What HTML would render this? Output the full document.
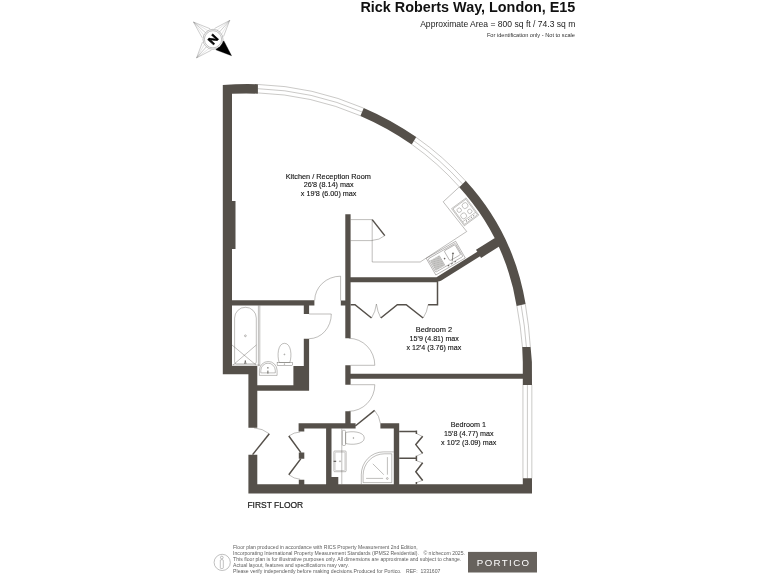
<!DOCTYPE html>
<html lang="en"><head><meta charset="utf-8"><title>Rick Roberts Way, London, E15 - Floor plan</title>
<style>
html,body{margin:0;padding:0;background:#fff;}
body{width:768px;height:576px;overflow:hidden;font-family:"Liberation Sans",sans-serif;}
svg{display:block;will-change:transform;}
text{font-family:"Liberation Sans",sans-serif;}
</style></head><body>
<svg width="768" height="576" viewBox="0 0 768 576">
<rect width="768" height="576" fill="#fff"/>
<path fill="#55504a" d="M222.8,85.1 A291.7,291.7 0 0 1 257.9,84.2 L257.9,93.7 A283.8,283.8 0 0 0 232,93.8 V120 H222.8Z M363.75,107.9 A291.7,291.7 0 0 1 416.25,137.1 L411.7,144.6 A282.8,282.8 0 0 0 360.4,116 Z M465.8,180.8 A240.6,240.6 0 0 1 525.6,304.1 L516.6,305.9 A231.8,231.8 0 0 0 459.3,187.25 Z M530.6,347 L531.9,362 L532,384.9 L522.8,384.9 L522.8,362 L522.2,347Z M222.8,88H232V374.3H222.8Z M232,201H235.5V249H232Z M232,300.2H314.4V305.5H232Z M303.8,305.5H309.1V313.9H303.8Z M303.8,338.7H309.1V390.7H303.8Z M293.4,366.1H309.1V390.7H293.4Z M257.3,385.2H309.1V390.7H257.3Z M222.8,366.1H257.3V374.3H222.8Z M248.4,366.1H257.3V427.8H248.4Z M248.4,454.8H257.3V493.4H248.4Z M248.4,484.2H532V493.4H248.4Z M522.8,478.3H532V493.4H522.8Z M345.3,214.2H350.6V338.3H345.3Z M350.6,277.3H438V282.2H350.6Z M340.8,300.6H345.3V305.5H340.8Z M345.3,365.2H350.6V384.7H345.3Z M350.6,373.8H523.3V378.8H350.6Z M345.3,411.3H350.6V423.3H345.3Z M298.6,423.3H355.6V428.6H298.6Z M380.4,423.3H399.2V428.6H380.4Z M298.6,428.6H304.3V431.5H298.6Z M298.8,452.4H304.3V458.8H298.8Z M298.8,479.8H304.3V484.3H298.8Z M326.1,428.6H331.5V484.2H326.1Z M393.8,423.3H399.2V484.2H393.8Z M331.5,477.1H338.3V484.2H331.5Z M436.48,277.26 L478.45,251.03 L481.26,255.53 L440.98,280.7 L436,282.2 L436,277.3Z M476,249.74 L499.23,235.22 L504.32,243.36 L481.08,257.88Z"/>
<path fill="none" stroke="#55524e" stroke-width="0.32" d="M257.9,84.47 A291.43,291.43 0 0 1 363.65,108.14 M257.9,88.7 A287.25,287.25 0 0 1 362.07,111.95 M257.9,92.93 A283.07,283.07 0 0 1 360.5,115.76 M416.11,137.32 A291.43,291.43 0 0 1 465.61,180.99 M413.98,140.85 A287.25,287.25 0 0 1 462.55,184.03 M411.84,144.38 A283.07,283.07 0 0 1 459.5,187.06 M525.33,304.15 A399.73,399.73 0 0 1 530.35,347 M521.1,305 A395.5,395.5 0 0 1 526.4,347 M516.87,305.85 A391.27,391.27 0 0 1 522.45,347 M522.95,384.9V478.3 M527.4,384.9V478.3 M531.85,384.9V478.3"/>
<g fill="none" stroke="#55524e" stroke-width="0.38" stroke-linecap="butt" stroke-linejoin="miter">
<!-- door swings -->
<path d="M340.6,300.6V276.2 M340.6,276.2A25.9,24.4 0 0 0 314.7,300.4"/>
<path d="M309.1,314H331.3 M331.3,314A22.2,24.7 0 0 1 309.1,338.7"/>
<path d="M350.6,365.3H374.8 M374.8,365.3A26,27 0 0 0 348.8,338.3"/>
<path d="M350.6,384.7H374.8 M374.8,384.7A26,26.6 0 0 1 348.8,411.3"/>
<path d="M374.6,410.4A24.3,24.3 0 0 1 380.4,423.4"/>
<path d="M269.3,433.8A26.7,26.7 0 0 0 254,427.9"/>
<path d="M288.8,436A20.3,20.3 0 0 1 300.2,432"/>
<path d="M288.8,474.7A20.3,20.3 0 0 0 300.2,479.3"/>
<path d="M384.8,235.6A20.4,20.4 0 0 1 372.2,240.4"/>
<!-- kitchen units -->
<path d="M350.6,219.6H372.2V262H420.2L466.7,231.5L443.2,201.8L459.6,186.7 M350.6,240.6H372.2"/>
<!-- wardrobe door swings bed 2 -->
<path d="M371.5,318Q375.6,311.5 376.4,304 M376.4,304Q377.4,311.5 380.8,318 M423.1,318Q427.2,312 428.1,304.7"/>
<!-- wardrobe bed 1 thin leaves -->
<path d="M416.7,433.6L422.5,436.5 M422.5,453.2L416.7,456 M416.7,460.8L422.5,462.9 M422.5,480.3L416.7,482.6"/>
<!-- bath -->
<path d="M258.4,305.5V366.1 M259.8,305.5V366.1 M232,365.1H259.8"/>
<path d="M234.6,318.1A10.85,10.85 0 0 1 256.3,318.1V361.9A2,2 0 0 1 254.3,363.9H236.6A2,2 0 0 1 234.6,361.9Z"/>
<path d="M232,345L256,365 M256.3,345L233,365"/>
<circle cx="245.4" cy="335.8" r="0.9"/>
<path d="M244.6,364L245.3,360.5L246,364" stroke-width="0.7"/>
<!-- wc 1 -->
<path d="M279.2,362.5C277,356 277.6,343.4 284.5,343.3C291.4,343.4 292,356 289.8,362.5Z"/>
<rect x="277.1" y="362.5" width="15.3" height="3.1"/>
<circle cx="284.4" cy="354.4" r="0.5"/><circle cx="284.4" cy="364.1" r="0.35"/>
<!-- basin 1 -->
<path d="M259.4,375.4V370.4A8.85,8.9 0 0 1 277.1,370.4V375.4Z"/>
<path d="M260.8,372.9V370.5A7.25,7.3 0 0 1 275.3,370.5V372.9Z"/>
<path d="M267.9,367V368.6 M267.9,370.6V373.6" stroke-width="0.9"/>
<!-- ensuite -->
<path d="M341.8,428.6V484.2"/>
<rect x="342.3" y="430.3" width="3.3" height="15.2" rx="1.2"/>
<path d="M345.6,432.6C351,430.8 364.2,431.4 364.3,438C364.2,444.6 351,445.2 345.6,443.4Z"/>
<circle cx="353.4" cy="438" r="0.5"/>
<rect x="333.9" y="451" width="12.2" height="20.7" rx="0.8"/>
<rect x="335.1" y="452.2" width="9.8" height="18.3" rx="0.8" stroke-width="0.25"/>
<path d="M333.6,461.3H336.2" stroke-width="1.1"/><circle cx="340" cy="461.3" r="0.6"/>
<!-- shower -->
<path d="M361.3,484.2V474.7A22,22.8 0 0 1 383.3,451.9H393.8"/>
<path d="M363.1,482.6V475.3A21.3,21.5 0 0 1 384.4,453.8H391.8V482.6Z"/>
<path d="M372.8,463.8L383.8,474.7 M387.4,457.1V474.7 M366.1,478.4H383.1"/>
<circle cx="387.3" cy="478.5" r="0.9"/>
</g>
<g fill="none" stroke="#55504a" stroke-width="1.5" stroke-linecap="butt" stroke-linejoin="miter">
<!-- doors (thick leaves) -->
<path d="M355.3,426L374.6,410.4"/>
<path d="M252.6,454.6L269.3,433.8"/>
<path d="M300.9,452.6L288.8,436 M300.9,458.6L288.8,474.7"/>
<path d="M372.2,219.6L384.8,235.6"/>
<!-- wardrobe bed 2 -->
<path d="M350.6,304.7H355L371.5,318 M380.8,318L397.3,304.7H406.2L423.1,318 M428.1,304.7H437.5V282"/>
<!-- wardrobe bed 1 -->
<path d="M399.2,431.4H417.1 M416.4,430.6V433.9 M422.7,436.3L415.8,444.6L422.7,453.4 M399.2,458.3H417.1 M416.4,455.8V461 M422.7,462.7L415.8,471.7L422.7,480.5 M416.4,482V484.3"/>
</g>
<!-- kitchen sink -->
<g transform="translate(426.2,258.3) rotate(-30)" fill="none" stroke="#55524e" stroke-width="0.38">
<rect x="0" y="0" width="34" height="19.3"/>
<rect x="1.3" y="1.5" width="31.4" height="15.3" rx="1"/>
<rect x="19.2" y="2.6" width="12.5" height="11.4" rx="1.2"/>
<path d="M2.6,4v11.6M3.6,4v11.6M4.6,4v11.6M5.6,4v11.6M6.6,4v11.6M7.6,4v11.6M8.6,4v11.6M9.6,4v11.6M10.6,4v11.6M11.6,4v11.6M12.6,4v11.6" stroke-width="0.5" stroke="#7a7773"/>
<circle cx="15.8" cy="9.5" r="0.55" fill="#4a4641"/>
<path d="M21,15.6L25.7,9.1" stroke-width="0.6"/><circle cx="25.7" cy="9.1" r="0.6" fill="#4a4641"/>
<path d="M14.8,17.5h1.6M18.7,17.5h1.6M22.6,17.5h1.6" stroke-width="0.9"/>
</g>
<!-- hob -->
<g transform="translate(451.6,208.6) rotate(-36.5)" fill="none" stroke="#55524e" stroke-width="0.32">
<rect x="0" y="0" width="18" height="21.4"/>
<rect x="1" y="1" width="16" height="19.4"/>
<circle cx="5.2" cy="5.8" r="2.2"/><circle cx="12.6" cy="5.6" r="2.9"/><circle cx="13" cy="13" r="2.2"/><circle cx="5.4" cy="13" r="2.9"/>
<path d="M1,17.2H17"/>
<path d="M4,18.8h1.2M7,18.8h1.2M10,18.8h1.2M13,18.8h1.2" stroke-width="0.8"/>
</g>
<!-- compass -->
<g fill="none" stroke="#6d6d6d" stroke-width="0.35">
<path d="M196.57,57.87L209.01,48.47 M196.57,57.87L204.38,44.38 M193.53,22.07L203.83,35.31 M193.53,22.07L207.92,30.68 M229.7,20.43L216.99,30.13 M229.7,20.43L221.62,34.22" stroke="#a8a8a8" stroke-width="0.3"/>
<path d="M211.5,50.1L196.57,57.87L202.47,42.1 M213,39.3L196.57,57.87 M202.2,37.8L193.53,22.07L210.2,28.77 M213,39.3L193.53,22.07 M214.5,28.5L229.7,20.43L223.53,36.5 M213,39.3L229.7,20.43"/>
<path d="M223.8,40.8L231.57,55.73L215.8,49.83Z" fill="#000" stroke="#000" stroke-width="0.3"/>
<circle cx="213.0" cy="39.3" r="10" fill="#fff" stroke="#666" stroke-width="0.4"/>
<circle cx="213.0" cy="39.3" r="8.6" stroke="#666" stroke-width="0.4"/>
</g>
<text transform="translate(213.0,39.3) rotate(-48.5) scale(1.12,1)" x="0" y="4.1" text-anchor="middle" font-size="11.5" font-weight="bold" fill="#000" stroke="#000" stroke-width="0.45">N</text>
<text x="575.3" y="11.6" text-anchor="end" font-size="14.38" font-weight="bold" fill="#111">Rick Roberts Way, London, E15</text>
<text x="575.3" y="26.8" text-anchor="end" font-size="8.55" fill="#222">Approximate Area = 800 sq ft / 74.3 sq m</text>
<text x="575" y="36.8" text-anchor="end" font-size="5.65" fill="#333">For identification only - Not to scale</text>
<text x="247.4" y="508.3" font-size="9.9" fill="#1a1a1a" stroke="#1a1a1a" stroke-width="0.22" textLength="55.8" lengthAdjust="spacingAndGlyphs">FIRST FLOOR</text>
<g font-size="8" fill="#111" stroke="#111" stroke-width="0.12">
<text x="285.7" y="178.6" textLength="85.2" lengthAdjust="spacingAndGlyphs">Kitchen / Reception Room</text>
<text x="303.7" y="187.2" textLength="49.9" lengthAdjust="spacingAndGlyphs">26'8 (8.14) max</text>
<text x="300.8" y="195.8" textLength="55.7" lengthAdjust="spacingAndGlyphs">x 19'8 (6.00) max</text>
<text x="415.8" y="331.8" textLength="36.3" lengthAdjust="spacingAndGlyphs">Bedroom 2</text>
<text x="409.6" y="340.8" textLength="49.3" lengthAdjust="spacingAndGlyphs">15'9 (4.81) max</text>
<text x="406.5" y="349.7" textLength="54.8" lengthAdjust="spacingAndGlyphs">x 12'4 (3.76) max</text>
<text x="450.8" y="427.2" textLength="35.2" lengthAdjust="spacingAndGlyphs">Bedroom 1</text>
<text x="444.1" y="436.2" textLength="49.4" lengthAdjust="spacingAndGlyphs">15'8 (4.77) max</text>
<text x="441.1" y="445.1" textLength="55.2" lengthAdjust="spacingAndGlyphs">x 10'2 (3.09) max</text>
</g>
<g font-size="5.12" fill="#606060">
<text x="233.1" y="548.75">Floor plan produced in accordance with RICS Property Measurement 2nd Edition,</text>
<text x="233.1" y="554.8">Incorporating International Property Measurement Standards (IPMS2 Residential).<tspan x="423.4">© n&#237;checom 2025.</tspan></text>
<text x="233.1" y="560.85">This floor plan is for illustrative purposes only. All dimensions are approximate and subject to change.</text>
<text x="233.1" y="566.9">Actual layout, features and specifications may vary.</text>
<text x="233.1" y="573">Please verify independently before making decisions.Produced for Portico.<tspan x="406">REF:</tspan><tspan x="420.5">1331607</tspan></text>
</g>
<g fill="none" stroke="#808080" stroke-width="0.5">
<circle cx="222.2" cy="562.4" r="8.1"/>
<circle cx="221.8" cy="557.5" r="1.35"/>
<rect x="220.3" y="559.7" width="3" height="8.8" rx="0.9"/>
</g>
<rect x="468" y="551.9" width="69" height="20.6" fill="#67625d"/>
<text x="476.8" y="565.9" font-size="9.7" fill="#fff" textLength="52.3" lengthAdjust="spacing">PORTICO</text>

</svg>
</body></html>
